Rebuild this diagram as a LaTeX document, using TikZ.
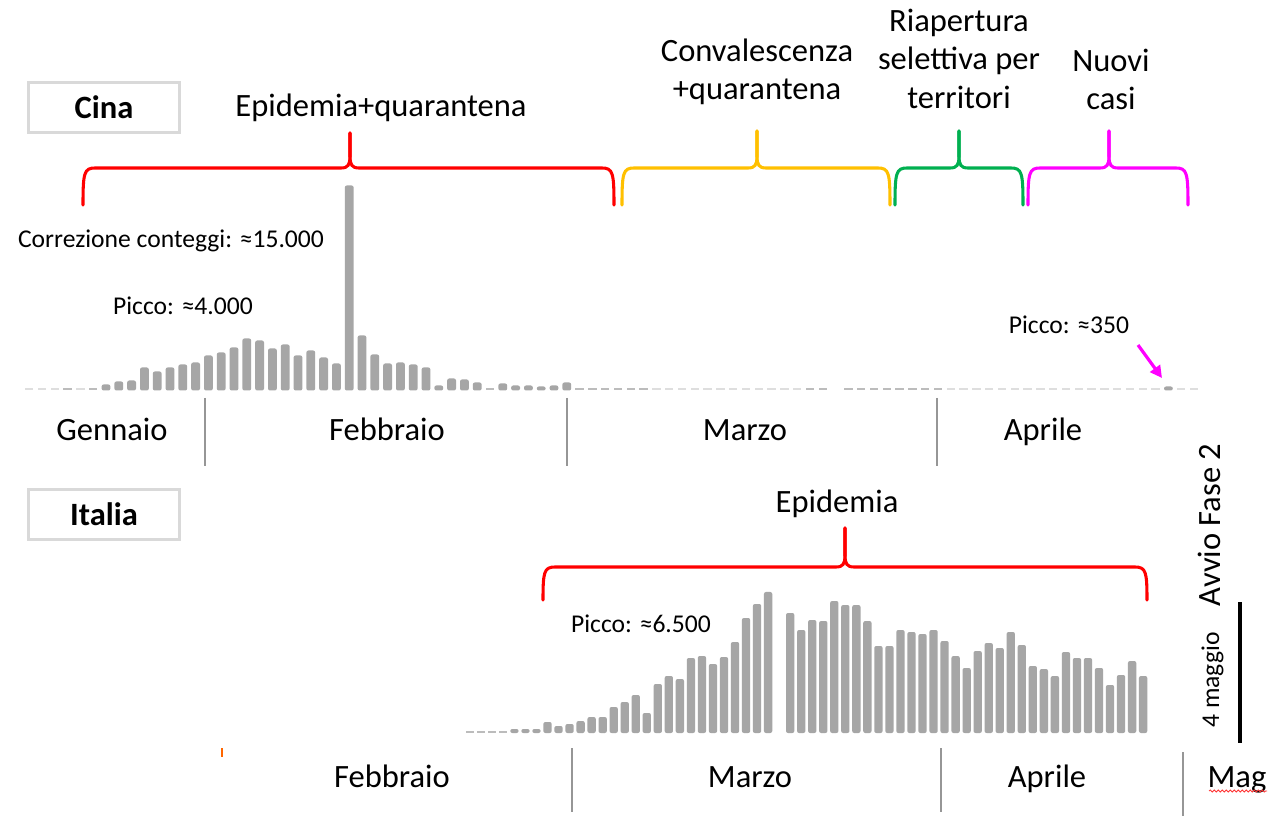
\documentclass[tikz,border=0pt]{standalone}
\usepackage{fontspec}
\setmainfont{Carlito}
\usetikzlibrary{arrows.meta,decorations.pathmorphing}
\definecolor{bargray}{RGB}{166,166,166}
\definecolor{zerogray}{RGB}{222,222,222}
\definecolor{lowgray}{RGB}{188,188,188}
\definecolor{sepgray}{RGB}{150,150,150}
\definecolor{boxgray}{RGB}{217,217,217}
\definecolor{bracered}{RGB}{255,0,0}
\definecolor{braceorange}{RGB}{255,192,0}
\definecolor{bracegreen}{RGB}{0,176,80}
\definecolor{bracemagenta}{RGB}{255,0,255}
\tikzset{
  lbl/.style={font=\fontsize{24.4}{29}\selectfont, anchor=base, inner sep=0pt},
  smalllbl/.style={font=\fontsize{19.2}{23}\selectfont, anchor=base, inner sep=0pt},
  country/.style={draw=boxgray, line width=2.2pt, fill=white, minimum width=113pt, minimum height=38pt, font=\fontsize{24.4}{29}\selectfont\bfseries, inner sep=0pt},
  sepline/.style={draw=sepgray, line width=0.9pt},
  braceline/.style={line width=2.3pt, line cap=round},
  bar/.style={fill=bargray, rounded corners=1.5pt},
}
\newcommand{\phasebrace}[7]{% color, x0, x1, xt, yh, yb, ytip
  \draw[braceline,#1] (#2,#6) .. controls (#2,#5+5) and (#2+1,#5) .. (#2+12,#5) -- (#4-9,#5) .. controls (#4-2,#5) and (#4,#5-3) .. (#4,#5-12) -- (#4,#7);
  \draw[braceline,#1] (#3,#6) .. controls (#3,#5+5) and (#3-1,#5) .. (#3-12,#5) -- (#4+9,#5) .. controls (#4+2,#5) and (#4,#5-3) .. (#4,#5-12) -- (#4,#7);
}
\begin{document}
\begin{tikzpicture}[x=0.75pt,y=-0.75pt]
\useasboundingbox (0,0) rectangle (1279,816);
\fill[white] (0,0) rectangle (1279,816);

% ---------- China ----------
\node[country] (cina) at (104,107.5) {Cina};
\node[lbl] (epq) at (381,117) {Epidemia+quarantena};
\node[lbl] (conv1) at (757,61.7) {Convalescenza};
\node[lbl] (conv2) at (757,100) {+quarantena};
\node[lbl] (riap1) at (959,31.5) {Riapertura};
\node[lbl] (riap2) at (959,70) {selettiva per};
\node[lbl] (riap3) at (959,108.5) {territori};
\node[lbl] (nuovi1) at (1111,71.5) {Nuovi};
\node[lbl] (nuovi2) at (1111,110) {casi};

\phasebrace{bracered}{83}{614}{350}{168}{205}{133}
\phasebrace{braceorange}{622}{890}{757}{168}{205}{131}
\phasebrace{bracegreen}{895}{1023}{959}{168}{205}{131}
\phasebrace{bracemagenta}{1028}{1188}{1109}{168}{205}{131}

% China daily bars
\foreach \h [count=\i from 0] in {0,0,0,1.5,0,2.5,6,9,10,23,19,23,26,28,35,38,43,52,50,42,46,35,40,33,27,205,55,36,27,28,26,23,5,12,11,8,2,7,5,5,4,5,8,2,2,2,2,2,2,0,0,0,0,0,0,0,0,0,0,0,0,2,2,-1,2,2.5,2,2,2,2,2,2,0,0,0,0,0,0,0,0,0,0,0,0,0,0,0,0,0,4,0,0}{
  \pgfmathsetmacro{\xc}{29.2+12.8*\i}
  \ifdim \h pt<0pt\relax
  \else\ifdim \h pt=0pt\relax
    \fill[zerogray] (\xc-4.2,388) rectangle (\xc+4.2,390.5);
  \else\ifdim \h pt<3pt\relax
    \fill[lowgray] (\xc-4.2,388) rectangle (\xc+4.2,390.5);
  \else
    \fill[bar] (\xc-4.4,390.5) rectangle (\xc+4.4,390.5-\h);
  \fi\fi\fi
}

\node[smalllbl] (corr) at (171,248) {Correzione conteggi: ≈15.000};
\node[smalllbl] (picco1) at (183,315) {Picco: ≈4.000};
\node[smalllbl] (picco2) at (1069,334) {Picco: ≈350};
\coordinate (arrS) at (1138,345);
\coordinate (arrE) at (1162,378);
\draw[bracemagenta, line width=2.4pt, -{Triangle[length=9pt,width=9pt]}] (arrS) -- (arrE);

% month axis China
\draw[sepline] (205,398) -- (205,466);
\draw[sepline] (567,398) -- (567,466);
\draw[sepline] (937,398) -- (937,466);
\node[lbl] (gen1) at (112,441) {Gennaio};
\node[lbl] (feb1) at (387,441) {Febbraio};
\node[lbl] (mar1) at (745,441) {Marzo};
\node[lbl] (apr1) at (1043,441) {Aprile};

% ---------- Italy ----------
\node[country] (italia) at (104,514.5) {Italia};
\node[lbl] (epi) at (837,513) {Epidemia};
\phasebrace{bracered}{543}{1147}{845}{567}{600}{528}

\foreach \h [count=\i from 0] in {1,1,1,1,4,4,4,11,7,9,12,16,16,26,31,38,20,49,57,54,75,77,69,76,91,115,129,141,-1,120,103,113,112,132,128,128,112,87,87,103,101,99,103,92,77,65,82,90,85,101,88,67,64,57,81,75,75,65,48,58,72,57}{
  \pgfmathsetmacro{\xc}{470.3+11.03*\i}
  \ifdim \h pt<0pt\relax
  \else\ifdim \h pt<3pt\relax
    \fill[lowgray] (\xc-4,730.5) rectangle (\xc+4,733);
  \else
    \fill[bar] (\xc-4.15,733) rectangle (\xc+4.15,733-\h);
  \fi\fi
}

\node[smalllbl] (picco3) at (641,632) {Picco: ≈6.500};

\node[lbl, rotate=90] (avvio) at (1220,525) {Avvio Fase 2};
\node[smalllbl, rotate=90] (magg) at (1219,680) {4 maggio};
\draw[line width=2.4pt] (1240,602) -- (1240,743);

% month axis Italy
\draw[orange!80!red, line width=0.8pt] (222,748) -- (222,757);
\draw[sepline] (572,748) -- (572,812);
\draw[sepline] (941,748) -- (941,812);
\draw[sepline] (1183,752) -- (1183,816);
\node[lbl] (feb2) at (392,787.5) {Febbraio};
\node[lbl] (mar2) at (750,787.5) {Marzo};
\node[lbl] (apr2) at (1047,787.5) {Aprile};
\node[lbl] (mag2) at (1237,787.5) {Mag};
\draw[bracered!80, line width=0.6pt, decorate, decoration={snake, amplitude=0.8pt, segment length=3pt}] (1209,791) -- (1267,791);
\end{tikzpicture}
\end{document}
